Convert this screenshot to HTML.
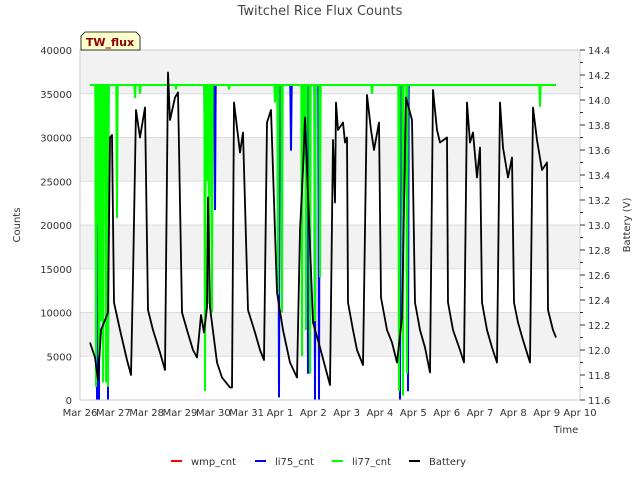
<!DOCTYPE html>
<html><head><meta charset="utf-8"><style>
body{margin:0;background:#fff;font-family:"DejaVu Sans","Liberation Sans",sans-serif}
svg text{font-family:"DejaVu Sans","Liberation Sans",sans-serif}
</style></head><body>
<svg id="chart" width="640" height="480" viewBox="0 0 640 480" xmlns="http://www.w3.org/2000/svg">
<text x="320" y="15" text-anchor="middle" font-size="13" fill="#444">Twitchel Rice Flux Counts</text>
<g id="bands"></g>
<g id="grid"></g>
<g id="series"></g>
<rect x="80" y="50" width="500" height="350" fill="none" stroke="#ccc"/>
<g id="yaxis"></g>
<g id="y2axis"></g>
<g id="xaxis"></g>
<text x="20" y="225" transform="rotate(-90 20 225)" text-anchor="middle" font-size="10" fill="#333">Counts</text>
<text x="630" y="225" transform="rotate(-90 630 225)" text-anchor="middle" font-size="10" fill="#333">Battery (V)</text>
<text x="566" y="433" text-anchor="middle" font-size="10" fill="#333">Time</text>
<g>
<path d="M81,50 L81,36 L85,32 L136,32 L140,36 L140,50 Z" fill="#ffffcc" stroke="#000" stroke-width="0.8"/>
<text x="110" y="46" text-anchor="middle" font-size="11" font-weight="bold" fill="#8b0000">TW_flux</text>
</g>
<g id="legend"></g>
</svg>
<script>
const xTickLabels=["Mar 26","Mar 27","Mar 28","Mar 29","Mar 30","Mar 31","Apr 1","Apr 2","Apr 3","Apr 4","Apr 5","Apr 6","Apr 7","Apr 8","Apr 9","Apr 10"];
const yTicks=[0,5000,10000,15000,20000,25000,30000,35000,40000];
const y2Ticks=[11.6,11.8,12.0,12.2,12.4,12.6,12.8,13.0,13.2,13.4,13.6,13.8,14.0,14.2,14.4];
const countStart=0.30, countEnd=14.28, countBase=36000;
const li77Days=[0.48,0.51,0.57,0.63,0.69,0.78,0.84,1.11,1.65,1.80,2.88,3.75,3.81,3.87,3.96,4.47,5.85,5.94,6.06,6.66,6.72,6.78,6.90,7.05,7.20,8.76,9.57,9.69,9.81,13.80];
const li77Vals=[1500,20000,5000,9000,2000,2000,1500,20800,34500,35000,35500,1000,25000,11000,10000,35500,34000,12000,10000,5000,30000,8000,3000,9000,14000,35000,1000,500,3000,33500];
const li75Days=[0.51,0.57,0.69,0.84,3.75,4.05,5.97,6.33,6.84,7.05,7.17,9.60,9.84];
const li75Vals=[0,0,28000,0,23000,21700,300,28500,3000,0,0,0,1000];
const wmpDays=[0.45,0.90,5.90,6.80,7.10];
const wmpVals=[36000,36000,36000,36000,36000];
const batDays=[0.30,0.45,0.54,0.63,0.84,0.90,0.96,1.02,1.20,1.41,1.53,1.59,1.68,1.80,1.95,2.04,2.19,2.40,2.55,2.64,2.70,2.85,2.94,3.06,3.21,3.39,3.51,3.63,3.72,3.81,3.84,3.90,4.11,4.26,4.50,4.56,4.62,4.71,4.80,4.89,5.04,5.25,5.40,5.52,5.61,5.73,5.91,6.09,6.30,6.51,6.60,6.69,6.75,6.99,7.20,7.50,7.59,7.65,7.68,7.74,7.89,7.95,8.01,8.04,8.19,8.31,8.49,8.61,8.73,8.82,8.97,9.03,9.21,9.36,9.51,9.66,9.78,9.96,10.05,10.20,10.35,10.50,10.59,10.71,10.80,11.01,11.04,11.19,11.40,11.52,11.61,11.70,11.79,11.91,12.00,12.06,12.21,12.36,12.51,12.60,12.69,12.84,12.96,13.02,13.14,13.29,13.50,13.59,13.71,13.86,14.01,14.04,14.19,14.28];
const batVals=[12.06,11.94,11.76,12.16,12.30,13.70,13.72,12.38,12.16,11.92,11.80,12.58,13.92,13.70,13.94,12.32,12.16,11.98,11.84,14.22,13.84,14.02,14.06,12.30,12.16,12.00,11.94,12.28,12.14,12.34,13.22,12.34,11.90,11.78,11.70,11.70,13.98,13.78,13.58,13.74,12.32,12.14,12.00,11.92,13.82,13.92,12.46,12.16,11.90,11.78,12.96,13.44,13.86,12.22,12.02,11.72,13.68,13.18,13.98,13.76,13.82,13.66,13.70,12.38,12.16,12.00,11.88,14.04,13.76,13.60,13.82,12.42,12.16,12.06,11.90,12.26,14.02,13.84,12.38,12.16,12.02,11.82,14.08,13.76,13.66,13.70,12.38,12.16,12.00,11.90,13.98,13.66,13.74,13.38,13.62,12.38,12.16,12.02,11.90,13.98,13.62,13.38,13.54,12.38,12.22,12.08,11.90,13.94,13.68,13.44,13.50,12.32,12.16,12.10];

const NS="http://www.w3.org/2000/svg";
const X0=80,X1=580,Y0=400,Y1=50;
const xs=d=>X0+d*(X1-X0)/15;
const ys=v=>Y0-v*(Y0-Y1)/40000;
const ys2=v=>Y0-(v-11.6)*(Y0-Y1)/2.8;
function mk(tag,at,parent){const e=document.createElementNS(NS,tag);for(const k in at)e.setAttribute(k,at[k]);parent.appendChild(e);return e;}
const bands=document.getElementById('bands'),grid=document.getElementById('grid');
for(let i=0;i<yTicks.length-1;i++){
  if(i%2===1){const r=mk('rect',{x:X0,y:ys(yTicks[i+1]),width:X1-X0,height:ys(yTicks[i])-ys(yTicks[i+1]),fill:'#f2f2f2'},bands);
  
  }
}
const ya=document.getElementById('yaxis');
yTicks.forEach(v=>{
  const l=mk('line',{x1:X0,x2:X1,y1:ys(v),y2:ys(v),stroke:'#ddd'},grid);
  
  
  const t=mk('text',{x:X0-8,y:ys(v)+4,'text-anchor':'end','font-size':'10',fill:'#333'},ya);
  t.textContent=v;
  
  
});
const y2=document.getElementById('y2axis');
for(let i=0;i<y2Ticks.length;i++){
  const v=y2Ticks[i];
  const tk=mk('line',{x1:X1,x2:X1+5,y1:ys2(v),y2:ys2(v),stroke:'#333'},y2);
  
  
  if(i<y2Ticks.length-1){const m=(v+y2Ticks[i+1])/2;
    const mt=mk('line',{x1:X1,x2:X1+3,y1:ys2(m),y2:ys2(m),stroke:'#333'},y2);
    
    }
  const t=mk('text',{x:X1+8,y:ys2(v)+4,'font-size':'10',fill:'#333'},y2);
  t.textContent=v.toFixed(1);
  
  
}
const xa=document.getElementById('xaxis');
xTickLabels.forEach((s,i)=>{
  const t=mk('text',{x:xs(i),y:416,'text-anchor':'middle','font-size':'10',fill:'#333'},xa);
  t.textContent=s;
  
  
});
function spikePath(days,vals){
  const hw=0.02;let p=[[countStart,countBase]];
  days.forEach((d,i)=>{p.push([d-hw,countBase],[d,vals[i]],[d+hw,countBase]);});
  p.push([countEnd,countBase]);
  return 'M'+p.map(q=>xs(q[0]).toFixed(1)+','+ys(q[1]).toFixed(1)).join(' L');
}
const sg=document.getElementById('series');
const w=mk('path',{d:'M'+xs(countStart)+','+ys(countBase)+' L'+xs(countEnd)+','+ys(countBase),stroke:'#ff0000','stroke-width':2,fill:'none'},sg);


wmpDays.forEach((d,i)=>{const r=mk('line',{x1:xs(d)-3,x2:xs(d)+3,y1:ys(wmpVals[i]),y2:ys(wmpVals[i]),stroke:'#ff0000','stroke-width':2},sg);
  
  });
const b=mk('path',{d:spikePath(li75Days,li75Vals),stroke:'#0000ff','stroke-width':2,fill:'none'},sg);


const g=mk('path',{d:spikePath(li77Days,li77Vals),stroke:'#00ff00','stroke-width':2,fill:'none'},sg);


const bat=mk('path',{d:'M'+batDays.map((d,i)=>xs(d).toFixed(1)+','+ys2(batVals[i]).toFixed(1)).join(' L'),stroke:'#000','stroke-width':1.8,fill:'none','stroke-linejoin':'round'},sg);


const lg=document.getElementById('legend');
[["wmp_cnt","#ff0000",171],["li75_cnt","#0000ff",255],["li77_cnt","#00ff00",332],["Battery","#000",409]].forEach(e=>{
  const gg=mk('g',{},lg);
  
  
  mk('line',{x1:e[2],x2:e[2]+11,y1:461,y2:461,stroke:e[1],'stroke-width':2},gg);
  const t=mk('text',{x:e[2]+20,y:465,'font-size':'10',fill:'#333'},gg);t.textContent=e[0];
});
</script>
</body></html>
